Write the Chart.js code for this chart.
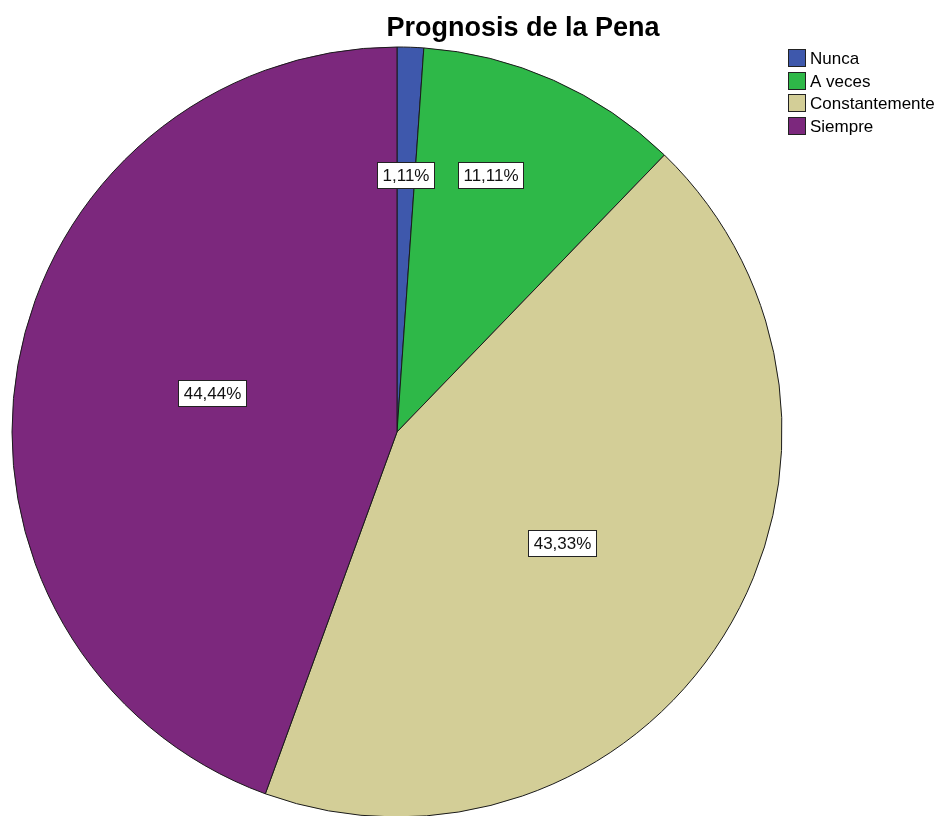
<!DOCTYPE html>
<html>
<head>
<meta charset="utf-8">
<script src="https://cdn.jsdelivr.net/npm/chart.js@4.4.1/dist/chart.umd.min.js"></script>
<style>
  html, body { margin: 0; padding: 0; background: #fff; overflow: hidden; }
  #wrap { position: relative; width: 944px; height: 870px; }
</style>
</head>
<body>
<div id="wrap"><canvas id="pieChart" width="944" height="870"></canvas></div>
<script>
const chartTitle = 'Prognosis de la Pena';
const categories = ['Nunca', 'A veces', 'Constantemente', 'Siempre'];
const percentages = [1.11, 11.11, 43.33, 44.44];
const sliceColors = ['#3E58AC', '#2EB848', '#D3CE97', '#7C287D'];

const FONT = '"Liberation Sans", Arial, sans-serif';

// where each percentage box sits: share of the radius, and a small turn (degrees) off the mid angle
const labelSpots = [
  { f: 0.667, turn: 0 },
  { f: 0.71, turn: -4 },
  { f: 0.517, turn: 2 },
  { f: 0.49, turn: 2 }
];

// percentage boxes on top of the slices
const sliceLabels = {
  id: 'sliceLabels',
  afterDatasetsDraw(chart) {
    const ctx = chart.ctx;
    const meta = chart.getDatasetMeta(0);
    ctx.save();
    ctx.font = '17px ' + FONT;
    ctx.textAlign = 'center';
    ctx.textBaseline = 'middle';
    meta.data.forEach((arc, i) => {
      const p = arc.getProps(['x', 'y', 'startAngle', 'endAngle', 'outerRadius'], true);
      const spot = labelSpots[i];
      const mid = (p.startAngle + p.endAngle) / 2 + spot.turn * Math.PI / 180;
      const px = p.x + Math.cos(mid) * p.outerRadius * spot.f;
      const py = p.y + Math.sin(mid) * p.outerRadius * spot.f;
      const text = percentages[i].toFixed(2).replace('.', ',') + '%';
      const w = Math.round(ctx.measureText(text).width + 10);
      const h = 26;
      const bx = Math.round(px - w / 2) + 0.5;
      const by = Math.round(py - h / 2) + 0.5;
      ctx.fillStyle = '#ffffff';
      ctx.fillRect(bx, by, w, h);
      ctx.strokeStyle = '#222';
      ctx.lineWidth = 1;
      ctx.strokeRect(bx, by, w, h);
      ctx.fillStyle = '#111';
      ctx.fillText(text, bx + w / 2, by + h / 2 + 1);
    });
    ctx.restore();
  }
};

// title + legend in SPSS style
const spssDecor = {
  id: 'spssDecor',
  afterDraw(chart) {
    const ctx = chart.ctx;
    ctx.save();
    ctx.fillStyle = '#000';
    ctx.font = 'bold 27px ' + FONT;
    ctx.textAlign = 'center';
    ctx.textBaseline = 'alphabetic';
    ctx.fillText(chartTitle, 523, 36);

    ctx.font = '17px ' + FONT;
    ctx.textAlign = 'left';
    categories.forEach((name, i) => {
      const top = 49 + i * 22.7;
      const by = Math.round(top) + 0.5;
      ctx.fillStyle = sliceColors[i];
      ctx.fillRect(788.5, by, 17, 17);
      ctx.strokeStyle = '#222';
      ctx.lineWidth = 1;
      ctx.strokeRect(788.5, by, 17, 17);
      ctx.fillStyle = '#000';
      ctx.fillText(name, 810, Math.round(top) + 15);
    });
    ctx.restore();
  }
};

new Chart(document.getElementById('pieChart'), {
  type: 'pie',
  data: {
    labels: categories,
    datasets: [{
      data: percentages,
      backgroundColor: sliceColors,
      borderColor: '#1a1a1a',
      borderWidth: 1,
    }]
  },
  options: {
    responsive: false,
    animation: false,
    devicePixelRatio: 1,
    radius: 385,
    layout: {
      padding: { left: 0, top: 0, right: 150, bottom: 6 }
    },
    plugins: {
      legend: { display: false },
      tooltip: { enabled: false },
      title: { display: false }
    }
  },
  plugins: [sliceLabels, spssDecor]
});
</script>
</body>
</html>
